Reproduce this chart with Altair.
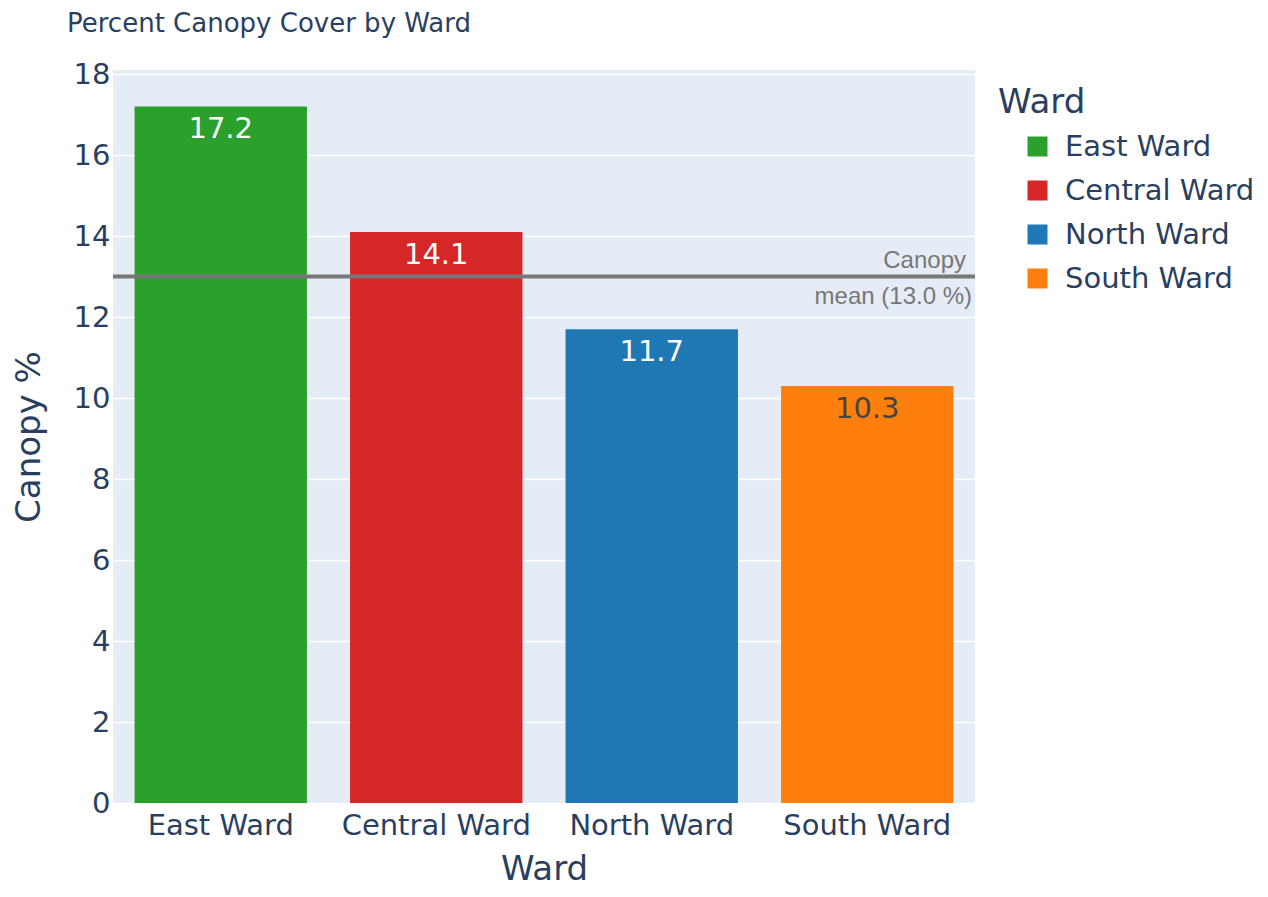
import altair as alt
import pandas as pd

wards = ["East Ward", "Central Ward", "North Ward", "South Ward"]
canopy = [17.2, 14.1, 11.7, 10.3]
colors = ["#2ca02c", "#d62728", "#1f77b4", "#ff7f0e"]
label_colors = ["white", "white", "white", "#444444"]
mean_value = 13.0

df = pd.DataFrame({"Ward": wards, "Canopy": canopy, "lc": label_colors,
                   "label": [f"{v:.1f}" for v in canopy]})

FONT = "DejaVu Sans"
TXT = "#2a3f5f"

x = alt.X("Ward:N", sort=wards, title="Ward",
          scale=alt.Scale(paddingInner=0.2, paddingOuter=0.1),
          axis=alt.Axis(labelAngle=0, labelFontSize=29, titleFontSize=34,
                        labelColor=TXT, titleColor=TXT, titleFontWeight="normal",
                        labelFont=FONT, titleFont=FONT, domain=False, ticks=False,
                        labelPadding=8, titlePadding=12, grid=False, labelLimit=300))
y = alt.Y("Canopy:Q", title="Canopy %",
          scale=alt.Scale(domain=[0, 18.1], nice=False),
          axis=alt.Axis(values=list(range(0, 19, 2)), labelFontSize=29, titleFontSize=34,
                        labelColor=TXT, titleColor=TXT, titleFontWeight="normal",
                        labelFont=FONT, titleFont=FONT, domain=False, ticks=False,
                        labelPadding=3, titlePadding=27, gridColor="white", gridWidth=1.5))

bars = alt.Chart(df).mark_bar().encode(
    x=x, y=y,
    color=alt.Color("Ward:N", sort=wards,
                    scale=alt.Scale(domain=wards, range=colors),
                    legend=alt.Legend(title="Ward", orient="none", legendX=885, legendY=16,
                                      titleFontSize=34, labelFontSize=29, titleColor=TXT,
                                      labelColor=TXT, titleFont=FONT, labelFont=FONT,
                                      titleFontWeight="normal", symbolType="square",
                                      symbolSize=400, symbolStrokeWidth=0, rowPadding=14,
                                      labelOffset=13, titlePadding=12, padding=0,
                                      symbolOffset=25, labelLimit=400))
)

labels = alt.Chart(df).mark_text(baseline="top", dy=9, fontSize=29, font=FONT).encode(
    x=alt.X("Ward:N", sort=wards), y="Canopy:Q", text="label:N",
    color=alt.Color("lc:N", scale=None)
)

mean_df = pd.DataFrame({"m": [mean_value]})
rule = alt.Chart(mean_df).mark_rule(color="#777777", strokeWidth=4).encode(y="m:Q")
ann1 = alt.Chart(mean_df).mark_text(align="right", baseline="bottom", dy=-4, fontSize=24,
                                    font="Liberation Sans", color="#777777").encode(
    y="m:Q", x=alt.value(853), text=alt.value("Canopy"))
ann2 = alt.Chart(mean_df).mark_text(align="right", baseline="top", dy=8, fontSize=24,
                                    font="Liberation Sans", color="#777777").encode(
    y="m:Q", x=alt.value(859), text=alt.value("mean (13.0 %)"))

chart = alt.layer(bars, labels, rule, ann1, ann2).properties(
    width=862, height=733,
    title=alt.TitleParams("Percent Canopy Cover by Ward", anchor="start", frame="group",
                          dx=-46, fontSize=26, font=FONT, color=TXT, fontWeight="normal",
                          offset=23),
    padding={"left": 105, "top": 62, "right": 285, "bottom": 86},
    autosize=alt.AutoSizeParams(type="none"),
).configure(background="white").configure_view(fill="#E5ECF6", strokeWidth=0)

chart.save("out.html", embed_options={"renderer": "svg", "actions": False})
